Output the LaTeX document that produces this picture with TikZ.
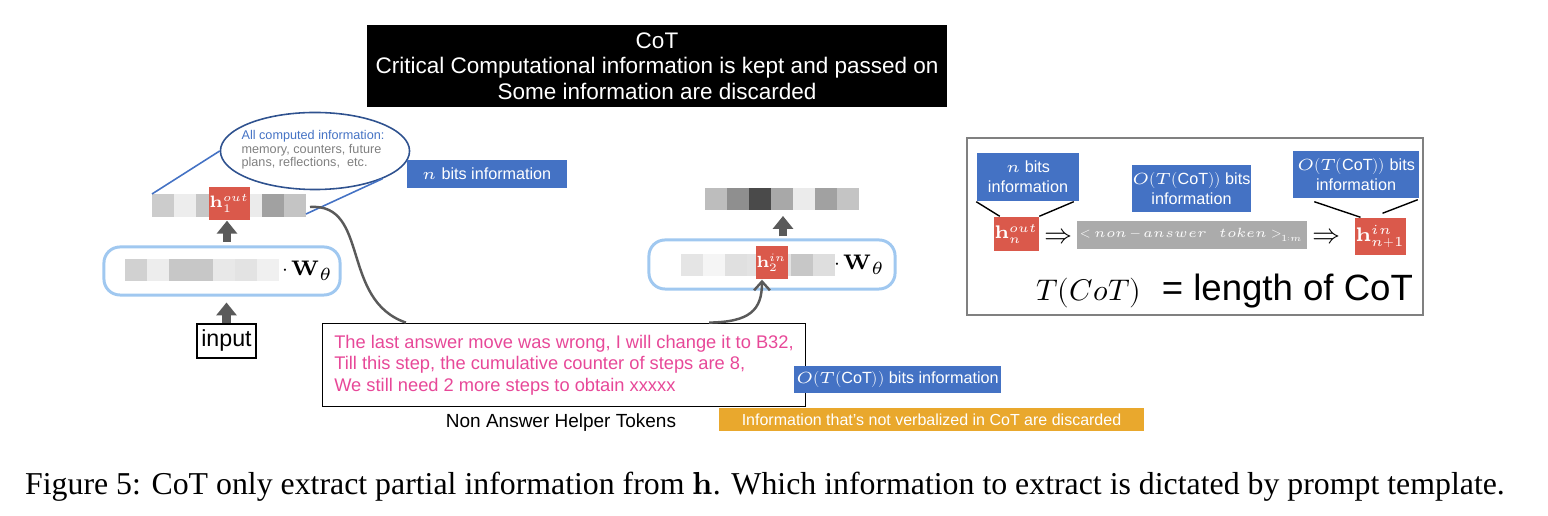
\documentclass[tikz,border=0pt]{standalone}
\usepackage{fontspec}
\usepackage{unicode-math}
\setmainfont{Liberation Sans}
\setmathfont{Latin Modern Math}
\newfontfamily\capfont{Liberation Serif}
\usetikzlibrary{arrows.meta,shapes.geometric,calc}

\definecolor{infoblue}{RGB}{68,114,196}
\definecolor{ellblue}{RGB}{47,82,143}
\definecolor{hred}{RGB}{218,89,75}
\definecolor{wblue}{RGB}{160,200,240}
\definecolor{cotpink}{RGB}{231,72,152}
\definecolor{discorange}{RGB}{233,168,45}
\definecolor{arrgray}{RGB}{90,90,90}

\tikzset{
  infobox/.style={fill=infoblue, text=white, inner sep=0pt, align=center, font=\fontsize{4.6}{5.7}\selectfont},
  hbox/.style={fill=hred, text=white, inner sep=0pt},
  wbox/.style={draw=wblue, line width=0.85pt, rounded corners=0.16cm},
  blockarr/.style={draw=arrgray, line width=2.3pt, -{Triangle[length=3.7pt,width=5.7pt]}},
  talkline/.style={draw=arrgray, line width=0.7pt},
  callout/.style={draw=infoblue, line width=0.45pt},
  pointer/.style={draw=black, line width=0.4pt}
}

\begin{document}
\begin{tikzpicture}[x=0.01cm, y=-0.01cm]
  \useasboundingbox (0,0) rectangle (1548,516);
  % the black banner on top
  \node[fill=black, text=white, inner sep=0pt, minimum width=5.8cm, minimum height=0.82cm, align=center,
    font=\fontsize{6.4}{7.2}\selectfont] (banner) at (657,66)
    {CoT\\Critical Computational information is kept and passed on\\Some information are discarded};

  % first step: input, the W box and the output vector
  \node[draw, line width=0.4pt, minimum width=0.59cm, minimum height=0.34cm, inner sep=0pt,
    font=\fontsize{6.6}{7.5}\selectfont] (input) at (226.5,341) {input};
  \node[wbox, minimum width=2.36cm, minimum height=0.48cm] (wone) at (222,271) {};
  \foreach \i/\g in {0/18,1/7,2/22,3/22,4/9,5/11,6/6} { \fill[black!\g] (125+22*\i,259) rectangle ++(22,22); }
  \node[font=\fontsize{6}{7}\selectfont, inner sep=0pt] (wthone) at (308,271) {$\cdot\,\symbf{W}_{\theta}$};
  \foreach \i/\g in {0/20,1/7,2/22,3/22,4/8,5/37,6/23} { \fill[black!\g] (152+22*\i,194) rectangle ++(22,23); }
  \coordinate (outone-nw) at (152,194);
  \coordinate (outone-se) at (306,214);
  \coordinate (outone-e) at (310,207);
  \node[hbox, minimum width=0.37cm, minimum height=0.33cm, font=\fontsize{4.7}{5}\selectfont] (hout) at (229.5,203.5) {$\symbf{h}_1^{out}$};
  \draw[blockarr, shorten >=1.7pt] (input.north) -- (input.north |- wone.south);
  \draw[blockarr, shorten <=1.1pt] ([xshift=-0.025cm]hout.south |- wone.north) -- ([xshift=-0.025cm]hout.south);

  % what h holds, and how many bits
  \node[ellipse, draw=ellblue, line width=0.45pt, minimum width=1.89cm, minimum height=0.77cm, inner sep=0pt] (allinfo) at (315,151) {};
  \node[align=left, inner sep=0pt, font=\fontsize{3.6}{3.85}\selectfont] (allinfotext) at (313,150)
    {\textcolor{infoblue}{All computed information:}\\\textcolor{gray}{memory, counters, future}\\\textcolor{gray}{plans, reflections,\ \ etc.}};
  \draw[callout] (allinfo.west) -- (outone-nw);
  \draw[callout] (allinfo.south east) -- (outone-se);
  \node[infobox, minimum width=1.6cm, minimum height=0.28cm] (nbits) at (487,174) {$n$ bits information};

  % the verbalized CoT
  \node[draw, line width=0.4pt, text=cotpink, minimum width=4.82cm, minimum height=0.72cm, align=left,
    font=\fontsize{5.2}{6.1}\selectfont] (steps) at (564,365)
    {The last answer move was wrong, I will change it to B32,\\Till this step, the cumulative counter of steps are 8,\\We still need 2 more steps to obtain xxxxx};
  \node[font=\fontsize{5.4}{6}\selectfont, inner sep=0pt] (helper) at (561,423) {Non Answer Helper Tokens};
  \node[infobox, minimum width=2.07cm, minimum height=0.27cm] (otbits) at (897.5,379.5) {$O(T(\mbox{CoT}))$ bits information};
  \node[fill=discorange, text=white, inner sep=0pt, minimum width=4.25cm, minimum height=0.23cm,
    font=\fontsize{4.55}{5}\selectfont] (discard) at (931.5,419.5) {Information that's not verbalized in CoT are discarded};

  % second step
  \node[wbox, minimum width=2.46cm, minimum height=0.49cm] (wtwo) at (772,264.5) {};
  \foreach \i/\g in {0/10,1/4,2/12,3/11,4/11,5/22,6/13} { \fill[black!\g] (681+22*\i,254) rectangle ++(22,22); }
  \node[hbox, minimum width=0.30cm, minimum height=0.33cm, font=\fontsize{4.6}{5}\selectfont] (hin) at (772,262.5) {$\symbf{h}_2^{in}$};
  \node[font=\fontsize{6}{7}\selectfont, inner sep=0pt] (wthtwo) at (860,265) {$\cdot\,\symbf{W}_{\theta}$};
  \foreach \i/\g in {0/26,1/44,2/71,3/34,4/8,5/37,6/23} { \fill[black!\g] (705+22*\i,188) rectangle ++(22,22); }
  \coordinate (outtwo-s) at (783,210);
  \draw[blockarr, shorten <=0.6pt, shorten >=1.7pt] (outtwo-s |- wtwo.north) -- (outtwo-s);

  % h out -> text -> h in
  \draw[talkline] (outone-e) .. controls (370,203) and (340,300) .. ([xshift=0.84cm]steps.north west);
  \draw[talkline, -{Straight Barb[length=2.5pt,width=4.5pt]}] ([xshift=3.87cm]steps.north west)
    .. controls (750,322) and (762,310) .. ([xshift=-0.1cm]hin.south);

  % the summary on the right
  \draw[draw=black!50, line width=0.4pt] (967,138) rectangle (1423,315);
  \node[infobox, minimum width=1.02cm, minimum height=0.48cm] (nbr) at (1028,177) {$n$ bits\\information};
  \node[infobox, minimum width=1.19cm, minimum height=0.47cm] (otmid) at (1191.5,188.5) {$O(T(\mbox{CoT}))$ bits\\information};
  \node[infobox, minimum width=1.26cm, minimum height=0.47cm] (otright) at (1356,174.5) {$O(T(\mbox{CoT}))$ bits\\information};
  \node[hbox, minimum width=0.41cm, minimum height=0.34cm, font=\fontsize{5.2}{6}\selectfont] (hnout) at (1016.5,234) {$\symbf{h}_n^{out}$};
  \node[hbox, minimum width=0.47cm, minimum height=0.37cm, font=\fontsize{5.6}{6}\selectfont] (hnin) at (1380.5,236.5) {$\symbf{h}_{n+1}^{in}$};
  \node[fill=black!33, text=white, inner sep=0pt, minimum width=2.30cm, minimum height=0.28cm,
    font=\fontsize{3.8}{4.5}\selectfont] (tokens) at (1192,235) {$<non-answer\quad token>_{1:m}$};
  \node[font=\fontsize{8}{9}\selectfont, inner sep=0pt] (impla) at (1059,236) {$\Rightarrow$};
  \node[font=\fontsize{8}{9}\selectfont, inner sep=0pt] (implb) at (1327,236) {$\Rightarrow$};
  \draw[pointer] (nbr.south west) -- ($(hnout.north west)+(6,0)$);
  \draw[pointer] ($(nbr.south east)+(-6,0)$) -- (hnout.north east);
  \draw[pointer] ($(otright.south west)+(22,3)$) -- ($(hnin.north west)+(6,0)$);
  \draw[pointer] ($(otright.south east)+(-2,1)$) -- ($(hnin.north)+(2,-4)$);
  \node[font=\fontsize{10.4}{12}\selectfont, inner sep=0pt] (tlen) at (1224.5,291)
    {{\fontsize{8.5}{10}\selectfont$T(CoT)$}\ \ = length of CoT};

  % caption
  \node[font=\capfont\fontsize{9.05}{10}\selectfont, inner sep=0pt] (caption) at (765,487)
    {Figure 5: CoT only extract partial information from $\symbf{h}$. Which information to extract is dictated by prompt template.};
\end{tikzpicture}
\end{document}
